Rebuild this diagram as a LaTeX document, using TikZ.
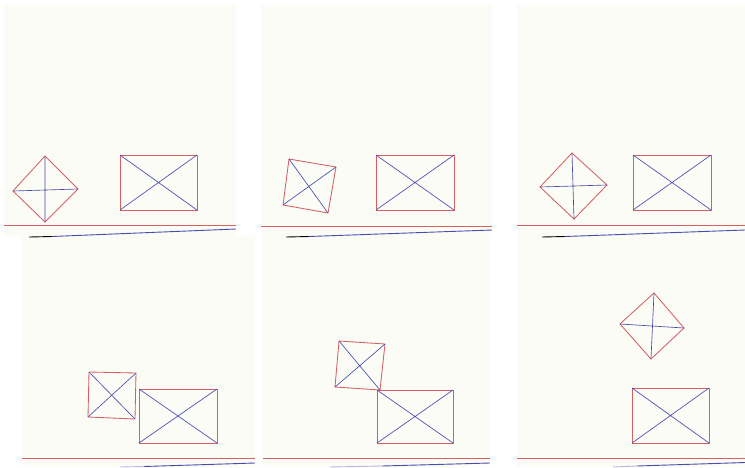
\documentclass[tikz,border=0pt]{standalone}
\usetikzlibrary{backgrounds}
\colorlet{background}{white}
\definecolor{panelColor}{RGB}{251,252,246}
\definecolor{penColor}{RGB}{75,75,175}
\definecolor{penColor3}{RGB}{214,95,100}
\colorlet{penColor5}{penColor!40!background}
\tikzset{x=1pt,y=-1pt,
  panel/.style={fill=panelColor},
  side/.style={penColor3,line width=0.85pt},
  cross/.style={penColor,line width=0.65pt},
  ground/.style={penColor3,line width=0.9pt},
  track/.style={penColor,line width=0.9pt}}
\begin{document}
\begin{tikzpicture}
      \useasboundingbox (0,0) rectangle (745,467);
      % panels
      \fill[panel] (4,5) rectangle (236,236);
      \fill[panel] (261,5) rectangle (492,236);
      \fill[panel] (517,5) rectangle (745,236);
      \fill[panel] (22,236) rectangle (255,467);
      \fill[panel] (263,236) rectangle (490,467);
      \fill[panel] (517,236) rectangle (745,467);
      % panel 1
      \coordinate (A1) at (45,156);
      \coordinate (B1) at (78,189);
      \coordinate (C1) at (45,222);
      \coordinate (D1) at (13,191);
      \draw[side] (A1)--(B1)--(C1)--(D1)--cycle;
      \draw[cross] (A1)--(C1) (B1)--(D1);
      \coordinate (P1) at (120,155);
      \coordinate (Q1) at (197,210);
      \draw[side] (P1) rectangle (Q1);
      \draw[cross] (P1)--(Q1) (P1|-Q1)--(Q1|-P1);
      \draw[ground] (4,225)--(236,225);
      \draw[black,line width=0.9pt] (29,237)--(52,236.5);
      \draw[track] (52,236.5)--(236,229);
      % panel 2
      \coordinate (A2) at (289,159);
      \coordinate (B2) at (336,167);
      \coordinate (C2) at (328,213);
      \coordinate (D2) at (283,205);
      \draw[side] (A2)--(B2)--(C2)--(D2)--cycle;
      \draw[cross] (A2)--(C2) (B2)--(D2);
      \coordinate (P2) at (376,155);
      \coordinate (Q2) at (454,210);
      \draw[side] (P2) rectangle (Q2);
      \draw[cross] (P2)--(Q2) (P2|-Q2)--(Q2|-P2);
      \draw[ground] (261,226)--(492,226);
      \draw[black,line width=0.9pt] (286,237)--(309,236.5);
      \draw[track] (309,236.5)--(492,230);
      % panel 3
      \coordinate (A3) at (572,153);
      \coordinate (B3) at (607,185);
      \coordinate (C3) at (574,219);
      \coordinate (D3) at (540,187);
      \draw[side] (A3)--(B3)--(C3)--(D3)--cycle;
      \draw[cross] (A3)--(C3) (B3)--(D3);
      \coordinate (P3) at (633,155);
      \coordinate (Q3) at (711,210);
      \draw[side] (P3) rectangle (Q3);
      \draw[cross] (P3)--(Q3) (P3|-Q3)--(Q3|-P3);
      \draw[ground] (517,225)--(745,225);
      \draw[black,line width=0.9pt] (542,237)--(565,236.5);
      \draw[track] (565,236.5)--(745,230);
      % panel 4
      \coordinate (A4) at (89,372);
      \coordinate (B4) at (136,373);
      \coordinate (C4) at (135,419);
      \coordinate (D4) at (88,417);
      \draw[side] (A4)--(B4)--(C4)--(D4)--cycle;
      \draw[cross] (A4)--(C4) (B4)--(D4);
      \coordinate (P4) at (139,389);
      \coordinate (Q4) at (217,443);
      \draw[side] (P4) rectangle (Q4);
      \draw[cross] (P4)--(Q4) (P4|-Q4)--(Q4|-P4);
      \draw[ground] (22,458)--(255,458);
      \draw[penColor5,line width=0.9pt] (120,467)--(144,466.5);
      \draw[track] (144,466.5)--(255,463);
      % panel 5
      \coordinate (A5) at (339,341);
      \coordinate (B5) at (385,344);
      \coordinate (C5) at (380,390);
      \coordinate (D5) at (335,387);
      \draw[side] (A5)--(B5)--(C5)--(D5)--cycle;
      \draw[cross] (A5)--(C5) (B5)--(D5);
      \coordinate (P5) at (377,390);
      \coordinate (Q5) at (453,443);
      \draw[side] (P5) rectangle (Q5);
      \draw[cross] (P5)--(Q5) (P5|-Q5)--(Q5|-P5);
      \draw[ground] (263,458)--(490,458);
      \draw[penColor5,line width=0.9pt] (330,467)--(382,466);
      \draw[track] (382,466)--(490,463);
      % panel 6
      \coordinate (A6) at (654,293);
      \coordinate (B6) at (684,328);
      \coordinate (C6) at (651,359);
      \coordinate (D6) at (620,324);
      \draw[side] (A6)--(B6)--(C6)--(D6)--cycle;
      \draw[cross] (A6)--(C6) (B6)--(D6);
      \coordinate (P6) at (632,388);
      \coordinate (Q6) at (709,443);
      \draw[side] (P6) rectangle (Q6);
      \draw[cross] (P6)--(Q6) (P6|-Q6)--(Q6|-P6);
      \draw[ground] (517,458)--(745,458);
      \draw[penColor5,line width=0.9pt] (613,467)--(637,466);
      \draw[track] (637,466)--(745,462.5);
\end{tikzpicture}
\end{document}
